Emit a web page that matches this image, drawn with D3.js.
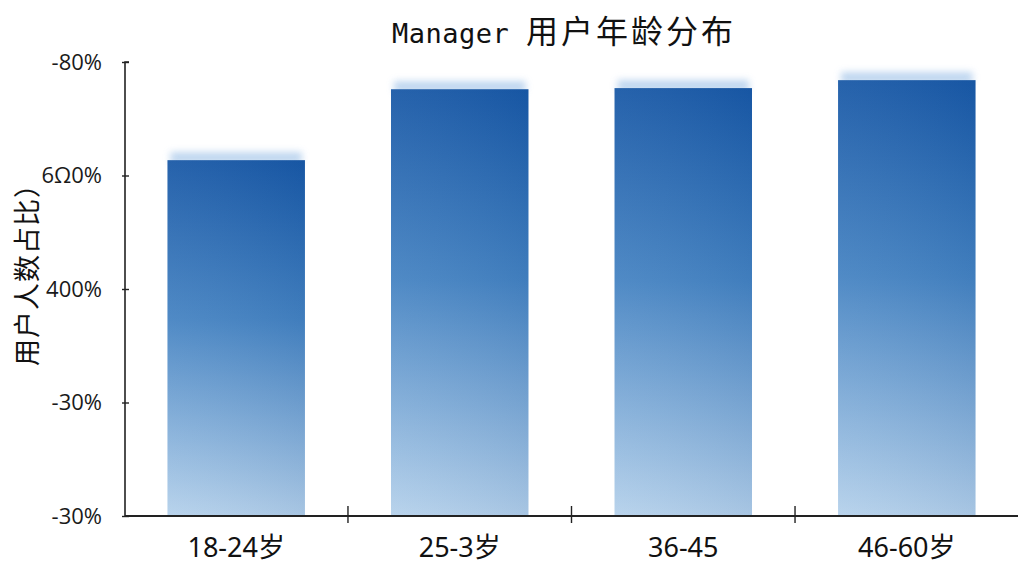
<!DOCTYPE html>
<html><head><meta charset="utf-8">
<script src="https://cdn.jsdelivr.net/npm/d3@7/dist/d3.min.js"></script>
<style>body{margin:0;background:#fff;}svg{display:block;}</style>
</head><body>
<svg id="chart" width="1024" height="576"></svg>
<script>
const categories = ["18-24岁", "25-3岁", "36-45", "46-60岁"];
const values = [62.7, 75.2, 75.4, 76.8];
const tickValues = [0, 20, 40, 60, 80];
const tickLabels = ["-30%", "-30%", "400%", "6Ω0%", "-80%"];
const titleLatin = "Manager ";
const titleCJK = "用户年龄分布";
const yTitle = "用户人数占比）";

const svg = d3.select("#chart");
const m = {l:125, r:1018, t:62, b:516};
const x = d3.scaleBand().domain(categories).range([m.l, m.r]).paddingInner(0.385).paddingOuter(0.19);
const y = d3.scaleLinear().domain([0, 80]).range([m.b, m.t]);

const defs = svg.append("defs");
const g = defs.append("linearGradient").attr("id","barGrad").attr("x1",0).attr("y1",0).attr("x2",0).attr("y2",1);
g.append("stop").attr("offset","0%").attr("stop-color","#1858a6");
g.append("stop").attr("offset","45%").attr("stop-color","#4583c2");
g.append("stop").attr("offset","100%").attr("stop-color","#b5d1eb");
const gh = defs.append("linearGradient").attr("id","barShade").attr("x1",0).attr("y1",0).attr("x2",1).attr("y2",0);
gh.append("stop").attr("offset","0%").attr("stop-color","#ffffff").attr("stop-opacity",0.06);
gh.append("stop").attr("offset","100%").attr("stop-color","#0a3d80").attr("stop-opacity",0.08);
defs.append("filter").attr("id","glow").attr("x","-20%").attr("y","-200%").attr("width","140%").attr("height","500%")
  .append("feGaussianBlur").attr("stdDeviation",3.5);

// glow above bars
svg.append("g").selectAll("rect").data(values).join("rect")
  .attr("x",(d,i)=>x(categories[i])+3).attr("width",x.bandwidth()-6)
  .attr("y",d=>y(d)-8).attr("height",11)
  .attr("fill","#a8c8ea").attr("opacity",0.75).attr("filter","url(#glow)");

svg.append("g").selectAll("rect").data(values).join("rect")
  .attr("x",(d,i)=>x(categories[i])).attr("width",x.bandwidth())
  .attr("y",d=>y(d)).attr("height",d=>m.b-y(d))
  .attr("fill","url(#barGrad)");
svg.append("g").selectAll("rect").data(values).join("rect")
  .attr("x",(d,i)=>x(categories[i])).attr("width",x.bandwidth())
  .attr("y",d=>y(d)).attr("height",d=>m.b-y(d))
  .attr("fill","url(#barShade)");

// y axis
const ya = svg.append("g").attr("transform",`translate(${m.l},0)`)
  .call(d3.axisLeft(y).tickValues(tickValues).tickSize(3).tickFormat((d,i)=>tickLabels[i]));
ya.select(".domain").attr("d",`M4,${m.t}H0V${m.b}`).attr("stroke","#222").attr("stroke-width",1.6);
ya.selectAll(".tick line").attr("x1",-3).attr("x2",4).attr("stroke","#222").attr("stroke-width",1.4);
ya.selectAll(".tick text").attr("x",-23).attr("font-family","'Open Sans', sans-serif").attr("font-size",22).attr("fill","#1a1a1a");

// x axis
const xa = svg.append("g").attr("transform",`translate(0,${m.b})`)
  .call(d3.axisBottom(x).tickSize(0));
xa.select(".domain").attr("d",`M${m.l},0H${m.r}`).attr("stroke","#222").attr("stroke-width",2);
xa.selectAll(".tick text").attr("y",0).attr("dy",41).attr("font-family","'Noto Sans', 'Noto Sans CJK SC', sans-serif")
  .attr("font-size",27).attr("fill","#111");
const step = x.step();
const sep = categories.slice(1).map(c => x(c) - (step - x.bandwidth())/2);
svg.append("g").selectAll("line").data(sep).join("line")
  .attr("x1",d=>d).attr("x2",d=>d).attr("y1",m.b-10).attr("y2",m.b+7)
  .attr("stroke","#222").attr("stroke-width",1.4);

// title
const t = svg.append("text").attr("x",564).attr("y",43).attr("text-anchor","middle").attr("fill","#111");
t.append("tspan").text(titleLatin).attr("font-family","'DejaVu Sans Mono', monospace").attr("font-size",27).attr("letter-spacing",0.5);
t.append("tspan").text(titleCJK).attr("font-family","'Noto Sans CJK SC', sans-serif").attr("font-size",32).attr("letter-spacing",3);

// y title
svg.append("text").attr("transform","translate(37,268) rotate(-90)").attr("text-anchor","middle")
  .attr("font-family","'Noto Sans CJK SC', sans-serif").attr("font-size",27).attr("letter-spacing",1).attr("fill","#111").text(yTitle);
</script>
</body></html>
